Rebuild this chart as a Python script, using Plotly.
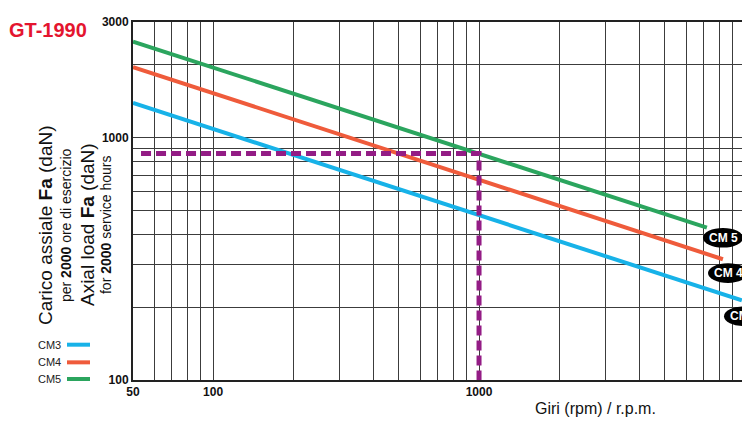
import plotly.graph_objects as go

# ---- data ----
speed_cm3 = [50, 9730]
load_cm3 = [1390, 213]
speed_cm4 = [50, 8260]
load_cm4 = [1955, 315]
speed_cm5 = [50, 7190]
load_cm5 = [2490, 425]
ref_speed = [53.6, 1000, 1000]
ref_load = [861, 861, 100]

x_grid = [50, 60, 70, 80, 90, 100, 200, 300, 400, 500, 600, 700, 800, 900,
          1000, 2000, 3000, 4000, 5000, 6000, 7000, 8000, 9000, 10000]
x_labels = {50: "50", 100: "100", 1000: "1000", 10000: "10000"}
y_grid = [100, 200, 300, 400, 500, 600, 700, 800, 900, 1000, 2000, 3000]
y_labels = {100: "100", 1000: "1000", 3000: "3000"}

series_names = ["CM3", "CM4", "CM5"]
tag_names = ["CM 3", "CM 4", "CM 5"]
colors = {"CM3": "#17b2e8", "CM4": "#ef5b3b", "CM5": "#2ba55e"}
purple = "#931c85"

OFF = 8  # page body margin offset
W, H = 750, 424
L = 133 - OFF
T = 15 - OFF
PR = 745 - OFF   # plot right in figure px
PB = 380 - OFF   # plot bottom in figure px
R = W - PR
B = H - PB
PW, PH = PR - L, PB - T


def px(xp):
    return (xp - OFF - L) / PW


def py(yp):
    return (PB - (yp - OFF)) / PH


FONT = "Liberation Sans, Arial, Helvetica, sans-serif"

fig = go.Figure()
for name, xs, ys in [("CM3", speed_cm3, load_cm3), ("CM4", speed_cm4, load_cm4),
                     ("CM5", speed_cm5, load_cm5)]:
    fig.add_trace(go.Scatter(x=xs, y=ys, mode="lines", name=name,
                             line=dict(color=colors[name], width=4),
                             showlegend=False, hoverinfo="skip"))

fig.add_trace(go.Scatter(x=ref_speed, y=ref_load, mode="lines", showlegend=False,
                         line=dict(color=purple, width=5, dash="10px,5px"),
                         hoverinfo="skip"))

fig.update_xaxes(type="log", range=[1.69897, 4.0],
                 tickvals=x_grid, ticktext=[x_labels.get(v, "") for v in x_grid],
                 showgrid=True, gridcolor="#3c3c3c", gridwidth=1.3,
                 showline=True, linecolor="#222", linewidth=2, mirror=True,
                 ticks="", tickfont=dict(family=FONT, size=12, color="#111", weight="bold"),
                 zeroline=False)
fig.update_yaxes(type="log", range=[2.0, 3.4771],
                 tickvals=y_grid, ticktext=[y_labels.get(v, "") for v in y_grid],
                 showgrid=True, gridcolor="#3c3c3c", gridwidth=1.3,
                 showline=True, linecolor="#222", linewidth=2, mirror=True,
                 ticks="", tickfont=dict(family=FONT, size=12, color="#111", weight="bold"),
                 zeroline=False)

annotations = []
shapes = []

# title
annotations.append(dict(xref="paper", yref="paper", x=px(7), y=py(23), xanchor="left",
                        yanchor="middle", showarrow=False, text="<b>GT-1990</b>",
                        font=dict(family=FONT, size=20, color="#e4152f")))

# y-axis title lines
ytitle_y = py(222)
for xp, txt, size in [(45, "Carico assiale <b>Fa</b> (daN)", 19),
                      (66, "per <b>2000</b> ore di esercizio", 14),
                      (87, "Axial load <b>Fa</b> (daN)", 19),
                      (106, "for <b>2000</b> service hours", 14)]:
    annotations.append(dict(xref="paper", yref="paper", x=px(xp), y=ytitle_y,
                            xanchor="center", yanchor="middle", textangle=-90,
                            showarrow=False, text=txt,
                            font=dict(family=FONT, size=size, color="#111")))

# x-axis title
annotations.append(dict(xref="paper", yref="paper", x=px(595), y=py(409),
                        xanchor="center", yanchor="middle", showarrow=False,
                        text="Giri (rpm) / r.p.m.",
                        font=dict(family=FONT, size=16, color="#111")))

# manual legend
for name, yp in zip(series_names, [344, 362, 379]):
    annotations.append(dict(xref="paper", yref="paper", x=px(63), y=py(yp),
                            xanchor="right", yanchor="middle", showarrow=False,
                            text=name, font=dict(family=FONT, size=11, color="#222")))
    shapes.append(dict(type="line", xref="paper", yref="paper",
                       x0=px(67), x1=px(90), y0=py(yp), y1=py(yp),
                       line=dict(color=colors[name], width=4)))

# end tags (black pills)
for tag, (cx, cy) in zip(tag_names, [(744, 315), (728, 271), (723, 235)]):
    shapes.append(dict(type="circle", xref="paper", yref="paper",
                       x0=px(cx - 20), x1=px(cx + 20), y0=py(cy + 10), y1=py(cy - 10),
                       fillcolor="#000", line=dict(color="#000", width=0)))
    annotations.append(dict(xref="paper", yref="paper", x=px(cx), y=py(cy),
                            xanchor="center", yanchor="middle", showarrow=False,
                            text="<b>" + tag + "</b>",
                            font=dict(family=FONT, size=12, color="#fff")))

fig.update_layout(width=W, height=H, margin=dict(l=L, r=R, t=T, b=B),
                  paper_bgcolor="#fff", plot_bgcolor="#fff",
                  annotations=annotations, shapes=shapes, showlegend=False)

fig.write_html("out.html")
